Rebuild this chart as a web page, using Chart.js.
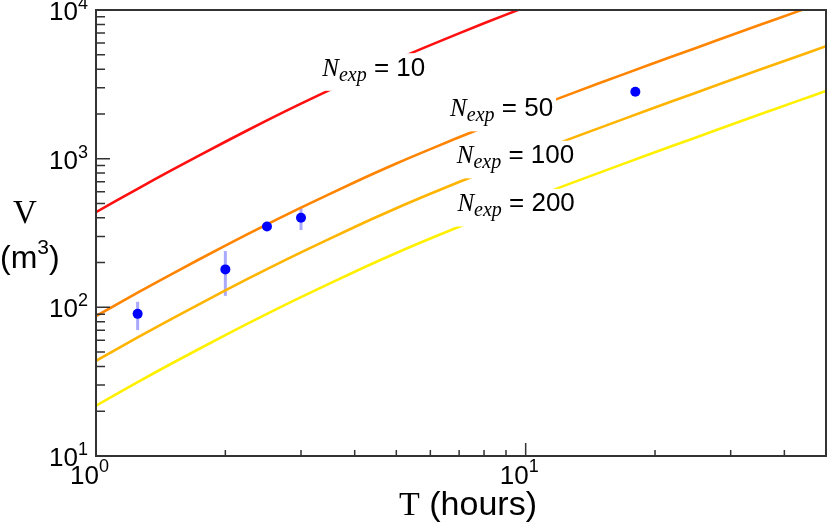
<!DOCTYPE html>
<html>
<head>
<meta charset="utf-8">
<script src="https://cdn.jsdelivr.net/npm/chart.js@4.4.1/dist/chart.umd.min.js"></script>
<style>
  html, body { margin: 0; padding: 0; background: #fff; }
  canvas { display: block; }
</style>
</head>
<body>
<canvas id="chart" width="831" height="522"></canvas>
<script>
// Model curves (T in hours, V in m^3)
const curveT = [1, 1.25, 1.5, 2, 2.5, 3, 4, 5, 6, 8, 10, 13, 17, 22, 28, 35, 43, 50];
const vN10 = [436.5, 627, 837, 1300, 1808, 2344, 3473, 4639, 5802, 8140, 10470, 13960];
const vN50 = [87.3, 125.5, 167.5, 260, 361.5, 468.7, 694.5, 927.7, 1160, 1628, 2094, 2792, 3718, 4880, 6276, 7930, 9786, 11420];
const vN100 = [43.65, 62.7, 83.7, 130, 180.8, 234.4, 347.3, 463.9, 580.2, 814, 1047, 1396, 1859, 2440, 3138, 3965, 4893, 5711];
const vN200 = [21.8, 31.4, 41.9, 65.0, 90.4, 117.2, 173.6, 231.9, 290.1, 407, 523.5, 698, 929.5, 1220, 1569, 1983, 2447, 2856];

// Measured points with error bars
const obsT = [1.25, 2, 2.5, 3, 18];
const obsV = [90.4, 180, 350, 400, 2820];
const obsLow = [70.3, 119.5, null, 331, null];
const obsHigh = [109, 239, null, 474, null];

// Curve labels (placed in data coordinates)
const labelNames = ["10", "50", "100", "200"];
const labelT = [4.43, 8.79, 9.47, 9.50];
const labelV = [4167, 2224, 1074, 510];

// Axis ticks
const xTicks = [1, 2, 3, 4, 5, 6, 7, 8, 9, 10, 20, 30, 40];
const xMajor = [1, 10];
const xMajorExp = ["0", "1"];
const yTicks = [10, 20, 30, 40, 50, 60, 70, 80, 90,
                100, 200, 300, 400, 500, 600, 700, 800, 900,
                1000, 2000, 3000, 4000, 5000, 6000, 7000, 8000, 9000, 10000];
const yMajor = [10, 100, 1000, 10000];
const yMajorExp = ["1", "2", "3", "4"];

const SANS = "'Liberation Sans', Arial, sans-serif";
const SERIF = "'Liberation Serif', 'Times New Roman', serif";

function pts(xs, ys) {
    return ys.map((y, i) => ({ x: xs[i], y: y }));
}

function curve(data, color) {
    return {
        data: data,
        borderColor: color,
        borderWidth: 2.6,
        pointRadius: 0,
        tension: 0.3,
        fill: false,
        clip: 0,
        order: 2
    };
}

// error bars under the points
const errorBars = {
    id: "errorBars",
    beforeDatasetsDraw(chart) {
        const { ctx, scales: { x, y } } = chart;
        ctx.save();
        ctx.strokeStyle = "rgba(40,40,255,0.4)";
        ctx.lineWidth = 3;
        obsT.forEach((t, i) => {
            if (obsLow[i] == null) return;
            const px = x.getPixelForValue(t);
            ctx.beginPath();
            ctx.moveTo(px, y.getPixelForValue(obsLow[i]));
            ctx.lineTo(px, y.getPixelForValue(obsHigh[i]));
            ctx.stroke();
        });
        ctx.restore();
    }
};

// frame, inward ticks, 10^n labels, axis titles, curve labels
const decorations = {
    id: "decorations",
    afterDatasetsDraw(chart) {
        const { ctx, chartArea: a, scales: { x, y } } = chart;
        ctx.save();

        // curve labels with white boxes that break the lines
        labelNames.forEach((n, i) => {
            const cx = x.getPixelForValue(labelT[i]);
            const cy = y.getPixelForValue(labelV[i]);
            const rest = " = " + n;
            ctx.font = "italic 25px " + SERIF;
            const wN = ctx.measureText("N").width;
            ctx.font = "italic 20px " + SERIF;
            const wSub = ctx.measureText("exp").width;
            ctx.font = "26px " + SANS;
            const wRest = ctx.measureText(rest).width;
            const total = wN + wSub + wRest;
            const left = cx - total / 2;
            const base = cy + 9.3;
            ctx.fillStyle = "#fff";
            ctx.fillRect(left - 3, base - 18.6 - 4, total + 6, 18.6 + 4 + 15);
            ctx.fillStyle = "#000";
            ctx.textBaseline = "alphabetic";
            ctx.textAlign = "left";
            ctx.font = "italic 25px " + SERIF;
            ctx.fillText("N", left, base);
            ctx.font = "italic 20px " + SERIF;
            ctx.fillText("exp", left + wN, base + 5);
            ctx.font = "26px " + SANS;
            ctx.fillText(rest, left + wN + wSub, base);
        });

        // frame
        ctx.strokeStyle = "#333";
        ctx.lineWidth = 2;
        ctx.strokeRect(a.left, a.top, a.right - a.left, a.bottom - a.top);

        // inward ticks
        ctx.lineWidth = 1.5;
        ctx.beginPath();
        y.ticks.forEach(t => {
            const py = y.getPixelForValue(t.value);
            const len = yMajor.includes(t.value) ? 14 : 9;
            ctx.moveTo(a.left, py);
            ctx.lineTo(a.left + len, py);
        });
        x.ticks.forEach(t => {
            const px = x.getPixelForValue(t.value);
            const len = xMajor.includes(t.value) ? 13 : 6;
            ctx.moveTo(px, a.bottom);
            ctx.lineTo(px, a.bottom - len);
        });
        ctx.stroke();

        // tick labels
        ctx.fillStyle = "#000";
        ctx.textAlign = "left";
        ctx.textBaseline = "alphabetic";
        yMajor.forEach((v, i) => {
            const py = y.getPixelForValue(v);
            ctx.font = "18px " + SANS;
            const wE = ctx.measureText(yMajorExp[i]).width;
            ctx.font = "26px " + SANS;
            const wB = ctx.measureText("10").width;
            const right = a.left - 8;
            ctx.fillText("10", right - wE - wB, py + 10);
            ctx.font = "18px " + SANS;
            ctx.fillText(yMajorExp[i], right - wE, py - 1);
        });
        xMajor.forEach((v, i) => {
            const px = x.getPixelForValue(v);
            ctx.font = "26px " + SANS;
            const wB = ctx.measureText("10").width;
            const bx = px + 3 - wB;
            ctx.fillText("10", bx, a.bottom + 28);
            ctx.font = "18px " + SANS;
            ctx.fillText(xMajorExp[i], bx + wB, a.bottom + 16);
        });

        // y title: V (m^3)
        ctx.textAlign = "center";
        ctx.font = "33px " + SERIF;
        ctx.fillText("V", 25, 223);
        ctx.font = "32px " + SANS;
        const wOpen = ctx.measureText("(m").width;
        ctx.font = "21px " + SANS;
        const w3 = ctx.measureText("3").width;
        const yl = 0;
        ctx.textAlign = "left";
        ctx.font = "32px " + SANS;
        ctx.fillText("(m", yl, 268);
        ctx.fillText(")", yl + wOpen + w3, 268);
        ctx.font = "21px " + SANS;
        ctx.fillText("3", yl + wOpen, 254);

        // x title: T (hours)
        ctx.font = "34px " + SERIF;
        const wT = ctx.measureText("T").width;
        ctx.font = "34px " + SANS;
        const wH = ctx.measureText(" (hours)").width;
        const xl = 468 - (wT + wH) / 2;
        ctx.font = "34px " + SERIF;
        ctx.fillText("T", xl, 515);
        ctx.font = "34px " + SANS;
        ctx.fillText(" (hours)", xl + wT, 515);

        ctx.restore();
    }
};

new Chart(document.getElementById("chart"), {
    type: "line",
    data: {
        datasets: [
            {
                data: pts(obsT, obsV),
                showLine: false,
                pointRadius: 5,
                pointBackgroundColor: "#0000ff",
                pointBorderWidth: 0,
                borderColor: "#0000ff",
                order: 0
            },
            curve(pts(curveT, vN10), "#ff1010"),
            curve(pts(curveT, vN50), "#ff8400"),
            curve(pts(curveT, vN100), "#ffb400"),
            curve(pts(curveT, vN200), "#fff000")
        ]
    },
    options: {
        responsive: false,
        animation: false,
        layout: { padding: { left: 96, top: 10, right: 2, bottom: 66 } },
        plugins: { legend: { display: false }, tooltip: { enabled: false } },
        scales: {
            x: {
                type: "logarithmic",
                min: 1,
                max: 50,
                afterBuildTicks: s => { s.ticks = xTicks.map(v => ({ value: v })); },
                grid: { display: false, drawTicks: false },
                border: { display: false },
                ticks: { display: false }
            },
            y: {
                type: "logarithmic",
                min: 10,
                max: 10000,
                afterBuildTicks: s => { s.ticks = yTicks.map(v => ({ value: v })); },
                grid: { display: false, drawTicks: false },
                border: { display: false },
                ticks: { display: false }
            }
        }
    },
    plugins: [errorBars, decorations]
});
</script>
</body>
</html>
